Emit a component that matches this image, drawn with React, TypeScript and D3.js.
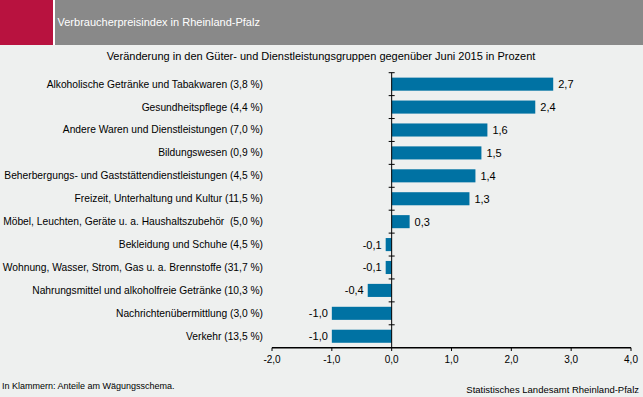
import React from "react";
import * as d3 from "d3";

const categories = [
  "Alkoholische Getränke und Tabakwaren (3,8 %)",
  "Gesundheitspflege (4,4 %)",
  "Andere Waren und Dienstleistungen (7,0 %)",
  "Bildungswesen (0,9 %)",
  "Beherbergungs- und Gaststättendienstleistungen (4,5 %)",
  "Freizeit, Unterhaltung und Kultur (11,5 %)",
  "Möbel, Leuchten, Geräte u. a. Haushaltszubehör  (5,0 %)",
  "Bekleidung und Schuhe (4,5 %)",
  "Wohnung, Wasser, Strom, Gas u. a. Brennstoffe (31,7 %)",
  "Nahrungsmittel und alkoholfreie Getränke (10,3 %)",
  "Nachrichtenübermittlung (3,0 %)",
  "Verkehr (13,5 %)",
];
const values = [2.7, 2.4, 1.6, 1.5, 1.4, 1.3, 0.3, -0.1, -0.1, -0.4, -1.0, -1.0];
const xTicks = [-2, -1, 0, 1, 2, 3, 4];

const W = 643;
const H = 397;
const FONT = "'Liberation Sans', Arial, sans-serif";
const fmt = (v: number) => d3.format(".1f")(v).replace(".", ",").replace("−", "-");

export default function App() {
  const x = d3.scaleLinear().domain([-2, 4]).range([272, 631]);
  const y = d3.scaleBand().domain(categories).range([72.7, 347.7]).paddingInner(0.43).paddingOuter(0.215);
  const yTicks = d3.range(categories.length).map((i) => 72.7 + i * (275 / categories.length));
  const x0 = x(0);
  return (
    <svg width={W} height={H} style={{ position: "absolute", left: 0, top: 0 }} fontFamily={FONT}>
      <rect x={0} y={0} width={W} height={H} fill="#EEF0EF" />
      <rect x={0} y={0} width={W} height={45} fill="#898989" />
      <rect x={0} y={0} width={53} height={45} fill="#B8123F" />
      <rect x={53} y={0} width={2} height={45} fill="#FFFFFF" />
      <text x={57.5} y={26} fill="#FFFFFF" fontSize={11}>Verbraucherpreisindex in Rheinland-Pfalz</text>
      <text x={321} y={60} textAnchor="middle" fill="#000" fontSize={11}>
        Veränderung in den Güter- und Dienstleistungsgruppen gegenüber Juni 2015 in Prozent
      </text>
      {categories.map((c, i) => {
        const v = values[i];
        const yy = y(c)!;
        const bx = Math.min(x(v), x0);
        const bw = Math.abs(x(v) - x0);
        const cy = yy + y.bandwidth() / 2;
        return (
          <g key={c}>
            <text x={263} y={cy + 3.5} textAnchor="end" fontSize={10.25} fill="#000" style={{ whiteSpace: "pre" }}>{c}</text>
            <rect x={bx} y={yy} width={bw} height={y.bandwidth()} fill="#0072A3" />
            <text
              x={v >= 0 ? x(v) + 5 : x(v) - 4}
              y={cy + 4}
              textAnchor={v >= 0 ? "start" : "end"}
              fontSize={11}
              fill="#000"
            >
              {fmt(v)}
            </text>
          </g>
        );
      })}
      <line x1={x0} x2={x0} y1={72.7} y2={347.7} stroke="#000" strokeWidth={1} />
      {yTicks.map((t, i) => (
        <line key={i} x1={x0 - 3} x2={x0 + 3} y1={t} y2={t} stroke="#000" strokeWidth={1} />
      ))}
      <line x1={x(-2)} x2={x(4)} y1={347.7} y2={347.7} stroke="#000" strokeWidth={1.5} />
      {xTicks.map((t) => (
        <g key={t}>
          <line x1={x(t)} x2={x(t)} y1={347.7} y2={351} stroke="#000" strokeWidth={1} />
          <text x={x(t)} y={363} textAnchor="middle" fontSize={10} fill="#000">{fmt(t)}</text>
        </g>
      ))}
      <text x={2} y={388.5} fontSize={9} fill="#000">In Klammern: Anteile am Wägungsschema.</text>
      <text x={639} y={393} textAnchor="end" fontSize={9.5} fill="#000">Statistisches Landesamt Rheinland-Pfalz</text>
    </svg>
  );
}
